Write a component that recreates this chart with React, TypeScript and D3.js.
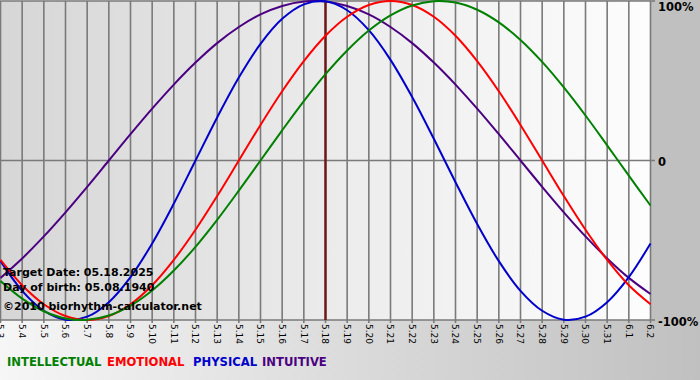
import React from "react";
import * as d3 from "d3";

const dayLabels = ["5.3","5.4","5.5","5.6","5.7","5.8","5.9","5.10","5.11","5.12","5.13","5.14","5.15","5.16","5.17","5.18","5.19","5.20","5.21","5.22","5.23","5.24","5.25","5.26","5.27","5.28","5.29","5.30","5.31","6.1","6.2"];

const physical = [-0.631,-0.817,-0.942,-0.998,-0.979,-0.888,-0.731,-0.520,-0.270,0,0.270,0.520,0.731,0.888,0.979,0.998,0.942,0.817,0.631,0.398,0.136,-0.136,-0.398,-0.631,-0.817,-0.942,-0.998,-0.979,-0.888,-0.731,-0.520];
const emotional = [-0.623,-0.782,-0.901,-0.975,-1,-0.975,-0.901,-0.782,-0.623,-0.434,-0.223,0,0.223,0.434,0.623,0.782,0.901,0.975,1,0.975,0.901,0.782,0.623,0.434,0.223,0,-0.223,-0.434,-0.623,-0.782,-0.901];
const intellectual = [-0.756,-0.866,-0.945,-0.990,-0.999,-0.972,-0.910,-0.815,-0.690,-0.541,-0.372,-0.189,0,0.189,0.372,0.541,0.690,0.815,0.910,0.972,0.999,0.990,0.945,0.866,0.756,0.618,0.458,0.282,0.095,-0.095,-0.282];
const intuitive = [-0.736,-0.614,-0.476,-0.325,-0.165,0,0.165,0.325,0.476,0.614,0.736,0.837,0.916,0.969,0.997,0.997,0.969,0.916,0.837,0.736,0.614,0.476,0.325,0.165,0,-0.165,-0.325,-0.476,-0.614,-0.736,-0.837];

const targetIndex = 15;
const yTicks = [
  { v: 1, label: "100%" },
  { v: 0, label: "0" },
  { v: -1, label: "-100%" },
];
const infoLines = ["Target Date: 05.18.2025", "Day of birth: 05.08.1940", "©2010 biorhythm-calculator.net"];

const series = [
  { name: "INTELLECTUAL", values: intellectual, color: "#008000" },
  { name: "EMOTIONAL", values: emotional, color: "#ff0000" },
  { name: "PHYSICAL", values: physical, color: "#0000cc" },
  { name: "INTUITIVE", values: intuitive, color: "#4b0082" },
];

export default function App() {
  const W = 700, H = 380;
  const x = d3.scaleLinear().domain([0, dayLabels.length - 1]).range([0.5, 650.5]);
  const y = d3.scaleLinear().domain([-1, 1]).range([320, 1]);
  const line = d3
    .line<number>()
    .x((_, i) => x(i))
    .y((d) => y(d))
    .curve(d3.curveCatmullRom.alpha(0.5));
  const font = "'DejaVu Sans', Verdana, sans-serif";
  const legendX = [7, 107, 193, 262];
  const drawOrder = [3, 2, 1, 0];
  return (
    <svg width={W} height={H} style={{ position: "absolute", left: 0, top: 0 }} fontFamily={font}>
      <defs>
        <linearGradient id="bgGrad" x1="0" x2="1" y1="0" y2="0">
          <stop offset="0" stopColor="#f6f6f6" />
          <stop offset="1" stopColor="#c0c0c0" />
        </linearGradient>
        <linearGradient id="plotGrad" x1="0" x2="1" y1="0" y2="0">
          <stop offset="0" stopColor="#d6d6d6" />
          <stop offset="0.5" stopColor="#ebebeb" />
          <stop offset="1" stopColor="#fdfdfd" />
        </linearGradient>
      </defs>
      <rect x={0} y={0} width={W} height={H} fill="url(#bgGrad)" />
      <rect x={651} y={0} width={W - 651} height={322} fill="#c0c0c0" />
      <rect x={0} y={y(1)} width={x(dayLabels.length - 1)} height={y(-1) - y(1)} fill="url(#plotGrad)" />
      {dayLabels.map((lab, i) => (
        <line key={"v" + i} x1={x(i)} x2={x(i)} y1={y(1)} y2={y(-1) + 3} stroke="#7a7a7a" strokeWidth={1.6} />
      ))}
      {yTicks.map((t) => (
        <line key={"h" + t.v} x1={0} x2={655} y1={y(t.v)} y2={y(t.v)} stroke="#7a7a7a" strokeWidth={1.6} />
      ))}
      <line x1={x(targetIndex)} x2={x(targetIndex)} y1={y(1)} y2={y(-1)} stroke="#6e1515" strokeWidth={2.4} />
      {drawOrder.map((si) => (
        <path key={series[si].name} d={line(series[si].values) || ""} fill="none" stroke={series[si].color} strokeWidth={2} />
      ))}
      {yTicks.map((t) => (
        <text key={"yl" + t.v} x={658} y={y(t.v) + (t.v === 1 ? 10 : t.v === 0 ? 5 : 6)} fontSize={11.5} fontWeight="bold" fill="#000">{t.label}</text>
      ))}
      {dayLabels.map((lab, i) => (
        <text key={"xl" + i} x={x(i)} y={324} dy="0.35em" fontSize={9} fill="#000" transform={`rotate(90, ${x(i)}, 324)`}>{lab}</text>
      ))}
      {infoLines.map((s, i) => (
        <text key={"info" + i} x={3} y={[276, 291, 310][i]} fontSize={11} fontWeight="bold" fill="#000">{s}</text>
      ))}
      {series.map((s, i) => (
        <text key={"lg" + i} x={legendX[i]} y={366} fontSize={11.6} fontWeight="bold" fill={s.color}>{s.name}</text>
      ))}
    </svg>
  );
}
